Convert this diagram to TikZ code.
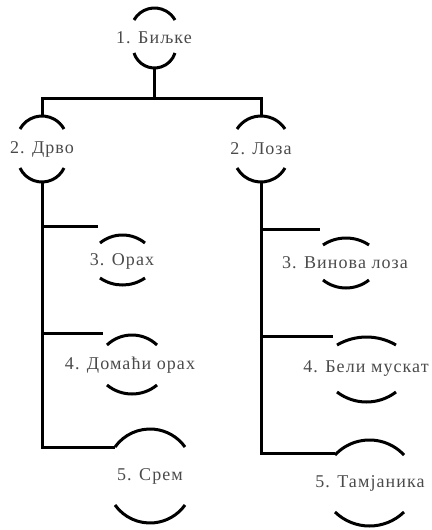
\documentclass[tikz,border=0pt]{standalone}
\usepackage{fontspec}
\setmainfont{Liberation Serif}[LetterSpace=6]
\definecolor{textgray}{HTML}{4A4A4A}
\newcommand\uparc[4]{% x1, x2, y of ends, y of top
  \pgfmathsetmacro\hw{(#2-#1)/2}\pgfmathsetmacro\hh{abs(#3-#4)}%
  \pgfmathsetmacro\rr{(\hw*\hw+\hh*\hh)/(2*\hh)}\pgfmathsetmacro\aa{asin(\hw/\rr)}%
  \draw[brk] (#1,#3) arc[start angle=270-\aa, end angle=270+\aa, radius=\rr];}
\newcommand\lowarc[4]{% x1, x2, y of ends, y of bottom
  \pgfmathsetmacro\hw{(#2-#1)/2}\pgfmathsetmacro\hh{abs(#3-#4)}%
  \pgfmathsetmacro\rr{(\hw*\hw+\hh*\hh)/(2*\hh)}\pgfmathsetmacro\aa{asin(\hw/\rr)}%
  \draw[brk] (#1,#3) arc[start angle=90+\aa, end angle=90-\aa, radius=\rr];}
\begin{document}
\begin{tikzpicture}[x=1pt,y=-1pt,line width=3pt,
  lbl/.style={text=textgray,font=\fontsize{18}{21}\selectfont,inner sep=0pt,anchor=center},
  brk/.style={line width=3pt},
  conn/.style={line width=3pt}]
\useasboundingbox (0,0) rectangle (431,530);
% level 1
\node[lbl] (n1) at (154,38) {1. Биљке};
\uparc{134}{175}{20}{8}
\lowarc{134}{175}{53}{68}
\coordinate (n1b) at (154.5,68);
\coordinate (j) at (154.5,98);
% level 2
\node[lbl] (dr) at (42,149) {2. Дрво};
\uparc{20}{64}{129}{116}
\lowarc{20}{64}{168}{182}
\coordinate (drt) at (42,116);
\coordinate (drb) at (42,182);
\node[lbl] (lo) at (261,149) {2. Лоза};
\uparc{237}{285}{129}{116}
\lowarc{237}{285}{168}{182}
\coordinate (lot) at (261,116);
\coordinate (lob) at (261,182);
\draw[conn] (n1b) -- (j);
\draw[conn] (drt) |- (j) -| (lot);
% left branch
\node[lbl] (or) at (122,261) {3. Орах};
\uparc{100}{145}{243}{235}
\lowarc{100}{145}{278}{285}
\coordinate (orh) at (98,226);
\node[lbl] (dom) at (130,365) {4. Домаћи орах};
\uparc{107}{157}{345}{335}
\lowarc{107}{157}{385}{394}
\coordinate (domh) at (103,333);
\node[lbl] (sr) at (150,476) {5. Срем};
\uparc{115}{185}{447}{429}
\lowarc{115}{185}{505}{523}
\coordinate (srh) at (115,447);
\draw[conn] (drb) |- (srh);
\draw[conn] (drb |- orh) -- (orh);
\draw[conn] (drb |- domh) -- (domh);
% right branch
\node[lbl] (vl) at (345,263) {3. Винова лоза};
\uparc{323}{369}{245}{238}
\lowarc{323}{369}{280}{288}
\coordinate (vlh) at (320,229);
\node[lbl] (bm) at (366,369) {4. Бели мускат};
\uparc{337}{396}{345}{337}
\lowarc{337}{396}{392}{402}
\coordinate (bmh) at (333,336);
\node[lbl] (ta) at (370,483) {5. Тамјаника};
\uparc{335}{404}{455}{440}
\lowarc{335}{404}{512}{526}
\coordinate (tah) at (335,453);
\draw[conn] (lob) |- (tah);
\draw[conn] (lob |- vlh) -- (vlh);
\draw[conn] (lob |- bmh) -- (bmh);
\end{tikzpicture}
\end{document}
